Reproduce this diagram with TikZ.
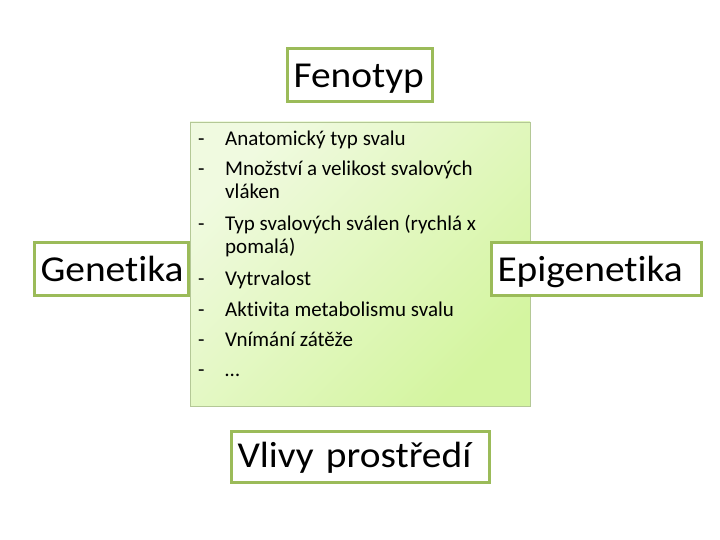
\documentclass[tikz,border=0pt]{standalone}
\usepackage{fontspec}
\setmainfont[Ligatures=NoCommon]{Carlito}
\newfontfamily\labelfont[Ligatures=NoCommon, FakeStretch=1.08]{Carlito}
\definecolor{box edge}{RGB}{155,187,89}
\definecolor{list edge}{RGB}{180,200,150}
\definecolor{list light}{RGB}{240,250,224}
\definecolor{list dark}{RGB}{212,245,160}
\tikzset{label box/.style={draw=box edge, line width=3pt, fill=white, inner xsep=6pt,
        inner ysep=0pt, align=left, text height=29pt, text depth=4pt,
        font=\labelfont\fontsize{36.5}{44}\selectfont},
    list box/.style={draw=list edge, line width=0.8pt, top color=list light,
        bottom color=list dark, shading angle=45},
    list text/.style={anchor=base west, inner sep=0pt,
        font=\fontsize{21}{25}\selectfont}}

\begin{document}
\begin{tikzpicture}[x=1pt, y=-1pt]
     \useasboundingbox (0,0) rectangle (720,540);
     \node[list box, minimum width=340pt, minimum height=284pt] (traits) at (360,264) {};
     % list items with a dash each
     \foreach \n/\y/\txt in {1/146/{Anatomický typ svalu},
             2/176/{Množství a velikost svalových},
             3/230/{Typ svalových sválen (rychlá x},
             4/285/{Vytrvalost},
             5/316/{Aktivita metabolismu svalu},
             6/346/{Vnímání zátěže},
             7/376/{…}}{
         \node[list text] (dash-\n) at (198,\y) {-};
         \node[list text] (item-\n) at (225,\y) {\txt};
     }
     % wrapped lines
     \node[list text] (item-2b) at (225,199) {vláken};
     \node[list text] (item-3b) at (225,253) {pomalá)};
     \node[label box, text width=133pt, minimum height=53pt] (fenotyp) at (360,75.5) {Fenotyp};
     \node[label box, text width=142pt, minimum height=53pt] (genetika) at (111.5,269) {Genetika};
     \node[label box, text width=198pt, minimum height=53pt] (epigenetika) at (596.5,269) {Epigenetika};
     \node[label box, text width=246pt, minimum height=51pt, text depth=8pt] (prostredi) at (360.5,457) {Vlivy prostředí};
 \end{tikzpicture}
\end{document}
